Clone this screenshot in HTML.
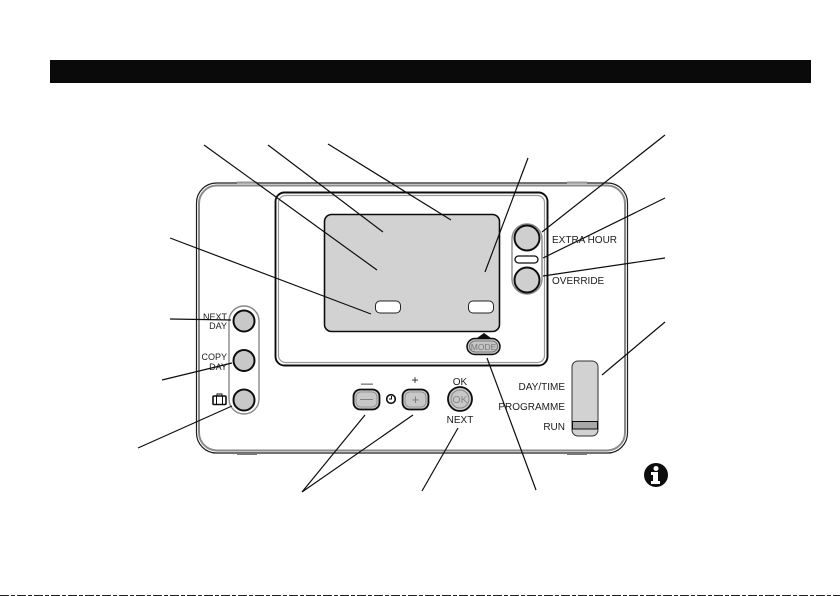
<!DOCTYPE html>
<html><head><meta charset="utf-8"><style>
html,body{margin:0;padding:0;background:#fff;width:840px;height:596px;overflow:hidden}
svg{display:block}
text{font-family:"Liberation Sans",sans-serif;fill:#1c1c1c}
</style></head><body>
<svg width="840" height="596" viewBox="0 0 840 596" xmlns="http://www.w3.org/2000/svg">
<defs><filter id="b" x="0" y="0" width="100%" height="100%" filterUnits="userSpaceOnUse" primitiveUnits="userSpaceOnUse"><feGaussianBlur stdDeviation="0.3"/></filter></defs>
<rect x="50" y="60" width="761" height="23" fill="#0a0a0a"/>
<g filter="url(#b)">
<!-- outer body -->
<rect x="196.500" y="183" width="431" height="270" rx="20" fill="#fff" stroke="#1a1a1a" stroke-width="1.200"/>
<rect x="199" y="185.500" width="426" height="265" rx="18" fill="none" stroke="#8a8a8a" stroke-width="2"/>
<rect x="237" y="181.500" width="20" height="2" fill="#999"/><rect x="567" y="181.500" width="20" height="2" fill="#999"/>
<rect x="237" y="453" width="20" height="2" fill="#777"/><rect x="567" y="453" width="20" height="2" fill="#777"/>
<!-- inner frame -->
<rect x="275.500" y="192.500" width="272" height="173" rx="9" fill="#fff" stroke="#111" stroke-width="1.900"/>
<rect x="278.500" y="195.500" width="266" height="167" rx="7" fill="none" stroke="#999" stroke-width="1.200"/>
<!-- LCD -->
<rect x="324.500" y="214.500" width="175" height="117" rx="7" fill="#d2d2d2" stroke="#111" stroke-width="1.600"/>
<rect x="375.500" y="301" width="25" height="12" rx="4.500" fill="#fff" stroke="#222"/>
<rect x="468.500" y="301" width="25" height="12" rx="4.500" fill="#fff" stroke="#222"/>
<!-- right buttons -->
<rect x="512" y="224" width="30" height="70" rx="15" fill="#fff" stroke="#888" stroke-width="1.400"/>
<circle cx="527" cy="238" r="12.500" fill="#cfcfcf" stroke="#111" stroke-width="2"/>
<circle cx="527" cy="280" r="12.500" fill="#cfcfcf" stroke="#111" stroke-width="2"/>
<rect x="515" y="256" width="23" height="7" rx="3.500" fill="#fff" stroke="#111" stroke-width="1.300"/>
<text x="552" y="243" font-size="10">EXTRA HOUR</text>
<text x="552" y="284" font-size="10">OVERRIDE</text>
<!-- left buttons -->
<rect x="229" y="306" width="30" height="108" rx="15" fill="#fff" stroke="#888" stroke-width="1.400"/>
<circle cx="244" cy="321" r="10.500" fill="#c8c8c8" stroke="#111" stroke-width="2"/>
<circle cx="244" cy="360.500" r="10.500" fill="#c8c8c8" stroke="#111" stroke-width="2"/>
<circle cx="244" cy="400" r="10.500" fill="#c8c8c8" stroke="#111" stroke-width="2"/>
<text x="227" y="320" font-size="9" text-anchor="end">NEXT</text>
<text x="227" y="329" font-size="9" text-anchor="end">DAY</text>
<text x="227" y="360" font-size="9" text-anchor="end">COPY</text>
<text x="227" y="370" font-size="9" text-anchor="end">DAY</text>
<rect x="213" y="396" width="13" height="8.500" rx="1" fill="#fff" stroke="#111" stroke-width="1.600"/>
<path d="M217 396v-2h5v2M216.500 396v8M222.500 396v8" fill="none" stroke="#111"/>
<!-- minus plus -->
<rect x="353.500" y="389.500" width="26" height="20" rx="7" fill="#c8c8c8" stroke="#111" stroke-width="1.800"/>
<rect x="356" y="392" width="21" height="15" rx="5" fill="none" stroke="#888" stroke-width="0.800"/>
<text x="366.500" y="403" font-size="13" text-anchor="middle" style="fill:#777">—</text>
<rect x="402.500" y="389.500" width="26" height="20" rx="7" fill="#c8c8c8" stroke="#111" stroke-width="1.800"/>
<rect x="405" y="392" width="21" height="15" rx="5" fill="none" stroke="#888" stroke-width="0.800"/>
<text x="415.500" y="404" font-size="13" text-anchor="middle" style="fill:#777">+</text>
<text x="367" y="387" font-size="12" text-anchor="middle">—</text>
<text x="415" y="384" font-size="12" text-anchor="middle">+</text>
<circle cx="391" cy="399" r="4.300" fill="#fff" stroke="#111" stroke-width="1.600"/>
<path d="M391.500 396v3h-2.500" fill="none" stroke="#111"/>
<!-- OK -->
<circle cx="460" cy="399" r="12" fill="#c8c8c8" stroke="#111" stroke-width="1.800"/>
<circle cx="460" cy="399" r="9" fill="none" stroke="#888"/>
<text x="460" y="403" font-size="10.500" text-anchor="middle" style="fill:#888">OK</text>
<text x="460" y="385" font-size="10" text-anchor="middle">OK</text>
<text x="460" y="423" font-size="10" text-anchor="middle">NEXT</text>
<!-- MODE -->
<path d="M477 338L484 333L491 338Z" fill="#111"/>
<rect x="467" y="338.500" width="33" height="16" rx="8" fill="#c4c4c4" stroke="#111" stroke-width="1.500"/>
<rect x="469.500" y="341" width="28" height="11" rx="5.500" fill="none" stroke="#666" stroke-width="0.800"/>
<text x="483.500" y="350" font-size="8.500" text-anchor="middle" style="fill:#777">MODE</text>
<!-- slider -->
<rect x="572" y="361" width="26" height="75" rx="6" fill="#d2d2d2" stroke="#333" stroke-width="1"/>
<rect x="572.500" y="421.500" width="25" height="7.500" fill="#a8a8a8" stroke="#111" stroke-width="1"/>
<text x="565" y="390" font-size="10" text-anchor="end">DAY/TIME</text>
<text x="565" y="410" font-size="10" text-anchor="end">PROGRAMME</text>
<text x="565" y="430" font-size="10" text-anchor="end">RUN</text>
<!-- leader lines -->
<g stroke="#111" stroke-width="1.200" fill="none">
<path d="M204 145L377 270"/><path d="M268 145L383 232"/><path d="M328 144L451 220"/>
<path d="M528 158L485 272"/><path d="M665 135L542 232"/><path d="M665 198L543 258"/>
<path d="M665 258L543 276"/><path d="M665 322L602 375"/><path d="M170 238L371 314"/>
<path d="M170 319L231 320"/><path d="M162 380L232 363"/><path d="M138 448L232 406"/>
<path d="M365 415L302 492L413 415"/><path d="M458 428L422 491"/><path d="M487 358L536 490"/>
</g>
<!-- info -->
<circle cx="656" cy="475" r="12" fill="#111"/>
<circle cx="656" cy="468.500" r="2.500" fill="#fff"/>
<path d="M651 472h7v9h2v3h-9v-3h2v-6h-2z" fill="#fff"/>
</g>
<!-- bottom dash -->
<line x1="0" y1="595.500" x2="840" y2="595.500" stroke="#222" stroke-width="1" stroke-dasharray="9 2 4 2"/>
</svg>
</body></html>
